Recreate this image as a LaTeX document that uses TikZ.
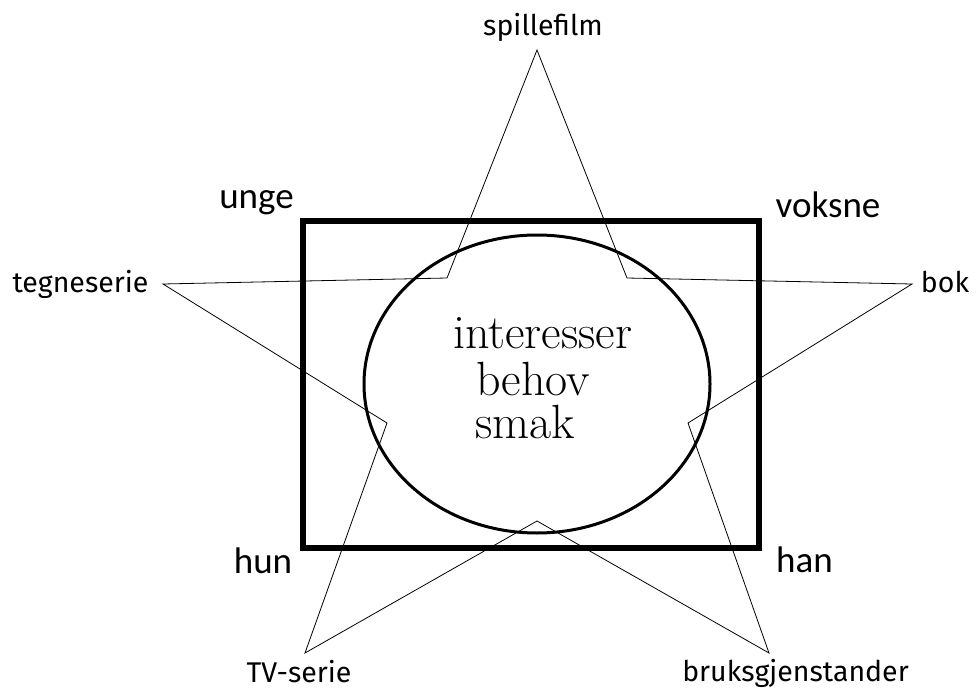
\documentclass[tikz,border=0pt]{standalone}
\usepackage{fontspec}
\newfontfamily\bigsans{Carlito}
\newfontfamily\smallsans{Fira Sans}
\usetikzlibrary{shapes.geometric}
\tikzset{
  starline/.style={draw=black, line width=0.8pt, line join=miter},
  biglabel/.style={anchor=base, inner sep=0pt, font=\bigsans\fontsize{37}{40}\selectfont},
  smalllabel/.style={anchor=base, inner sep=0pt, font=\smallsans\fontsize{28.5}{32}\selectfont},
  centertext/.style={anchor=base west, inner sep=0pt, align=left, font=\fontsize{48}{45}\selectfont},
}
\begin{document}
\begin{tikzpicture}[x=1pt,y=-1pt]
\useasboundingbox (0,0) rectangle (977,690);
\fill[white] (0,0) rectangle (977,690);
% frame and ellipse
\node[draw, line width=5.5pt, minimum width=456pt, minimum height=327pt, inner sep=0pt] (frame) at (531,384.5) {};
\node[draw, ellipse, line width=3pt, minimum width=346pt, minimum height=298pt, inner sep=0pt] (circ) at (537,384) {};
% star points
\coordinate (top) at (537,50);
\coordinate (ur) at (627,278);
\coordinate (bokpt) at (912,284);
\coordinate (ri) at (688,423);
\coordinate (brpt) at (769,653);
\coordinate (bi) at (537,521);
\coordinate (tvpt) at (305,653);
\coordinate (li) at (387,423);
\coordinate (tgpt) at (163,284);
\coordinate (ul) at (447,278);
\draw[starline] (top) -- (ur) -- (bokpt) -- (ri) -- (brpt) -- (bi) -- (tvpt) -- (li) -- (tgpt) -- (ul) -- cycle;
% labels
\node[smalllabel] (spf) at (543,36) {spillefilm};
\node[smalllabel] (tgs) at (80.5,292) {tegneserie};
\node[smalllabel] (bok) at (945,292) {bok};
\node[smalllabel] (tvs) at (299,682) {TV-serie};
\node[smalllabel] (bgs) at (795.5,681) {bruksgjenstander};
\node[biglabel] (unge) at (256.5,208) {unge};
\node[biglabel] (voksne) at (828,217) {voksne};
\node[biglabel] (hun) at (263,573) {hun};
\node[biglabel] (han) at (804.5,572) {han};
% centre text
\node[centertext] (mid) at (453,438) {interesser\\[2pt]\hspace*{23pt}behov\\[-2pt]\hspace*{22pt}smak};
\end{tikzpicture}
\end{document}
